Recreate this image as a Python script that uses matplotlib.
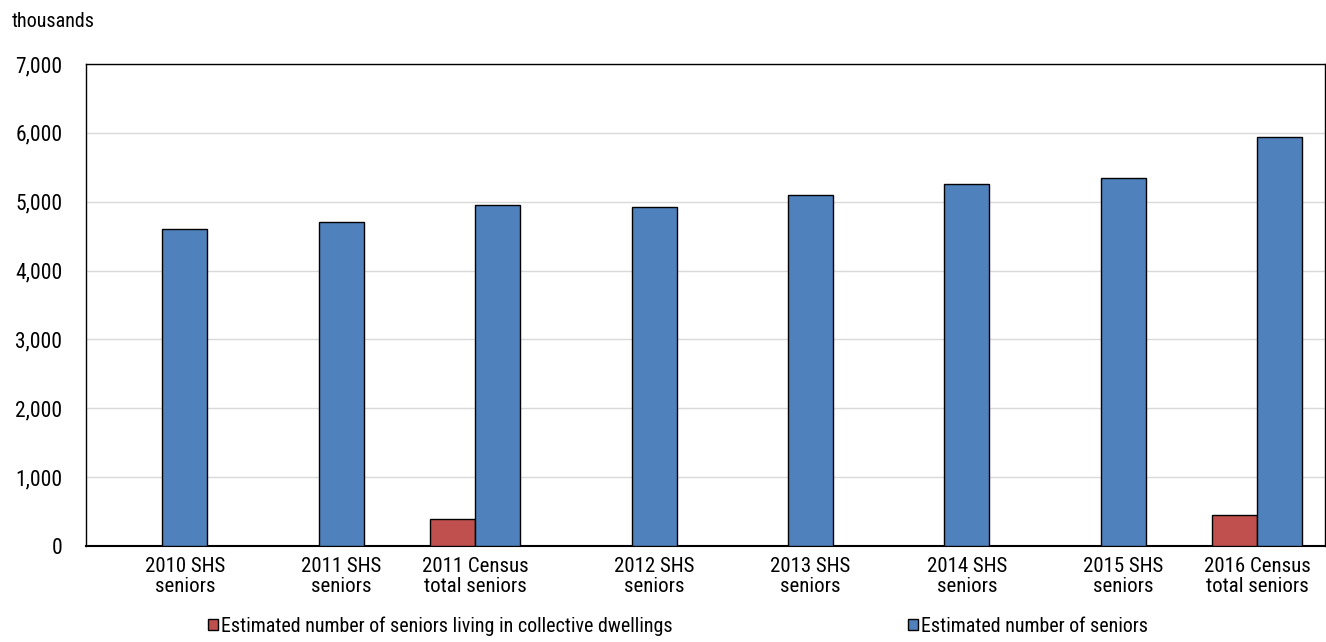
import numpy as np
import matplotlib
matplotlib.use("Agg")
import matplotlib.pyplot as plt
from matplotlib.patches import Patch

plt.rcParams['font.family'] = ['Roboto Condensed', 'Liberation Sans Narrow', 'Roboto', 'DejaVu Sans']

categories = ['2010 SHS\nseniors', '2011 SHS\nseniors', '2011 Census\ntotal seniors',
              '2012 SHS\nseniors', '2013 SHS\nseniors', '2014 SHS\nseniors',
              '2015 SHS\nseniors', '2016 Census\ntotal seniors']
collective = [np.nan, np.nan, 390, np.nan, np.nan, np.nan, np.nan, 450]
seniors = [4604, 4705, 4950, 4923, 5097, 5257, 5344, 5935]
yticks = [0, 1000, 2000, 3000, 4000, 5000, 6000, 7000]

RED = '#C0504D'
BLUE = '#4F81BD'

fig = plt.figure(figsize=(13.26, 6.42), dpi=100)
ax = fig.add_axes([86 / 1326, 96 / 642, 1239 / 1326, 482 / 642])

x = np.arange(len(categories))
w = 0.2875
ax.bar(x - w / 2, collective, w, color=RED, edgecolor='black', linewidth=1, zorder=3)
ax.bar(x + w / 2, seniors, w, color=BLUE, edgecolor='black', linewidth=1, zorder=3)

# labels sit under the group centre, or under the lone bar when one is missing
tick_pos = [xi + w / 2 if np.isnan(c) else xi for xi, c in zip(x, collective)]
ax.set_xticks(tick_pos)
ax.set_xticklabels(categories, fontsize=15, linespacing=1.05)
ax.tick_params(axis='x', length=0, pad=8)

ax.set_ylim(0, 7000)
ax.set_yticks(yticks)
ax.set_yticklabels([f'{v:,}' for v in yticks], fontsize=15.5)
ax.tick_params(axis='y', length=0, pad=17)
ax.set_xlim(-0.489, 7.434)

ax.grid(axis='y', color='#D9D9D9', linewidth=1, zorder=0)
ax.set_axisbelow(True)
for s in ax.spines.values():
    s.set_color('black')
    s.set_linewidth(1)
ax.spines['bottom'].set_linewidth(1.5)

fig.text(12 / 1326, 1 - 27 / 642, 'thousands', fontsize=14.5, va='baseline')

# two legend entries: first anchored by its marker, second by its text end
entries = [(RED, 'Estimated number of seniors living in collective dwellings', 'center left', 208),
           (BLUE, 'Estimated number of seniors', 'center right', 1148)]
for color, label, loc, xpos in entries:
    fig.legend([Patch(facecolor=color, edgecolor='black', linewidth=1)], [label],
               loc=loc, bbox_to_anchor=(xpos / 1326, 1 - 626 / 642),
               frameon=False, fontsize=14.4, handlelength=0.5, handleheight=0.5,
               handletextpad=0.15, borderpad=0, borderaxespad=0)

fig.savefig('out.png', dpi=100)
